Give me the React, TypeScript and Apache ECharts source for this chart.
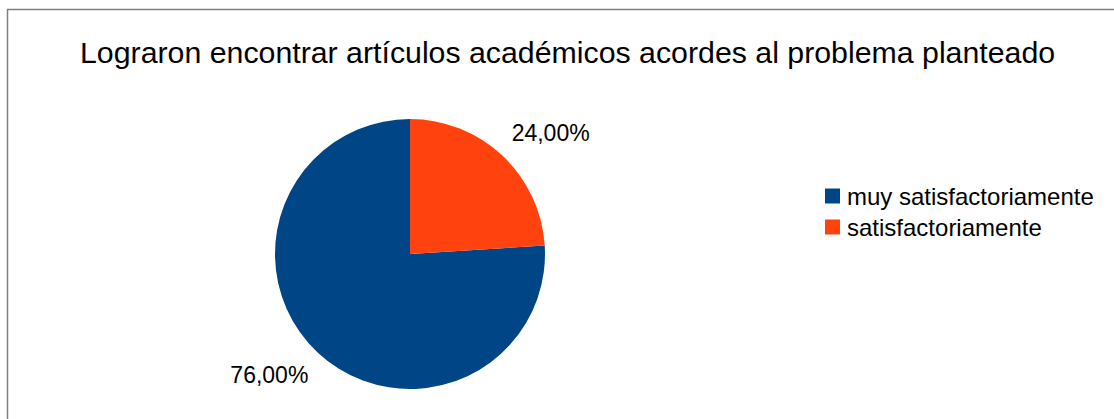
import React, { useEffect, useRef } from "react";
import * as echarts from "echarts";

const titleText = "Lograron encontrar artículos académicos acordes al problema planteado";
const categories = ["muy satisfactoriamente", "satisfactoriamente"];
const values = [76, 24];
const colors = ["#004586", "#ff420e"];

export default function App() {
  const ref = useRef<HTMLDivElement>(null);
  useEffect(() => {
    if (!ref.current) return;
    const chart = echarts.init(ref.current, null, { renderer: "svg" });
    const font = "'Liberation Sans', Arial, sans-serif";
    chart.setOption({
      animation: false,
      backgroundColor: "#ffffff",
      color: colors,
      title: {
        text: titleText,
        left: 75,
        top: 32,
        textStyle: { fontFamily: font, fontSize: 30.3, fontWeight: "normal", color: "#000000" },
      },
      legend: {
        orient: "vertical",
        left: 825,
        top: 184,
        padding: 0,
        itemWidth: 15,
        itemHeight: 15,
        itemGap: 7,
        icon: "rect",
        textStyle: { fontFamily: font, fontSize: 24, color: "#000000", lineHeight: 24, padding: [0, 0, 0, 2] },
        data: categories,
      },
      graphic: [
        {
          type: "rect",
          shape: { x: 7.5, y: 9.5, width: 1300, height: 600 },
          style: { fill: "none", stroke: "#7f7f7f", lineWidth: 1.5 },
          silent: true,
        },
      ],
      series: [
        {
          type: "pie",
          center: [410, 254],
          radius: 135,
          startAngle: 90,
          clockwise: false,
          data: categories.map((c, i) => ({ name: c, value: values[i] })),
          label: {
            show: true,
            position: "outside",
            formatter: (p: any) => p.percent.toFixed(2).replace(".", ",") + "%",
            fontFamily: font,
            fontSize: 23,
            color: "#000000",
            distanceToLabelLine: 0,
          },
          labelLine: { show: false, length: 31, length2: -12 },
          emphasis: { disabled: true },
        },
      ],
    });
    return () => chart.dispose();
  }, []);
  return (
    <div
      ref={ref}
      style={{ position: "absolute", left: 0, top: 0, width: 1114, height: 419 }}
    />
  );
}
